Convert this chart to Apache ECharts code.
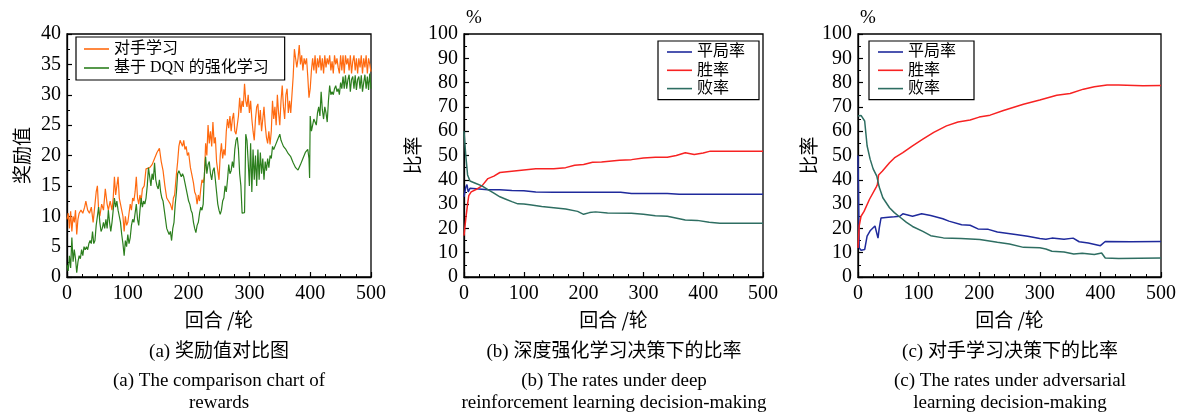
<!DOCTYPE html>
<html><head><meta charset="utf-8">
<script src="https://cdn.jsdelivr.net/npm/echarts@6/dist/echarts.min.js"></script>
<style>html,body{margin:0;padding:0;background:#fff}#c{width:1181px;height:415px}</style>
</head><body><div id="c"></div>
<script>
// ---- Panel (a): rewards ----
const rewardOpponent = [[0,9.5],[2,10.5],[4,8],[6,10.8],[8,7.5],[10,10],[12,9],[14,11],[16,7],[18,9.5],[20,10.5],[23,11],[26,10.5],[29,11.5],[31,12.5],[34,11],[37,10.5],[40,11.5],[43,9],[46,12],[48,14],[50,15],[52,11],[54,10],[57,12],[60,11],[63,14.5],[66,12],[68,11],[71,12.5],[74,11],[76,13],[78,16.5],[80,13.5],[82,15],[84,16.5],[86,13],[88,12],[90,11],[92,10],[94,7.5],[96,10],[98,8.5],[100,9],[102,10.5],[104,12],[106,11],[108,13],[110,12.5],[112,14],[114,16.5],[116,13],[118,12],[120,13.5],[122,12.5],[124,14.5],[127,15],[130,17.8],[133,17.5],[136,18],[140,18.5],[144,19.5],[148,20.5],[152,21.2],[155,19],[158,17.5],[161,15],[164,13],[167,12.5],[170,12],[173,11],[175,13],[177,13.5],[180,17],[182,19],[184,21.5],[186,22.5],[188,22.8],[190,21.5],[192,22.5],[194,21],[196,21.5],[198,20],[200,20.5],[203,18],[205,17],[208,15.5],[210,14],[212,13.5],[214,12],[216,13.5],[218,12.5],[220,14.5],[222,16],[224,15.5],[226,16.5],[228,22],[230,20],[232,25],[234,22],[236,24],[238,21.5],[240,25.5],[242,22],[244,23],[246,19],[248,17.5],[250,16],[252,20],[254,22],[256,19.5],[258,21],[260,20],[262,24],[264,26],[266,24.5],[268,26.5],[270,24],[272,26],[274,27],[276,24],[278,23.5],[280,25],[282,26.5],[284,29.5],[286,27],[288,29],[290,28],[292,31.8],[294,29],[296,28],[298,30],[300,27],[302,29],[304,26],[306,24],[308,22.5],[310,26],[312,28],[314,28.5],[316,25],[318,27.5],[320,24],[322,26],[324,28],[326,25],[328,23],[330,22],[332,24],[334,21.8],[336,24],[338,29],[340,26],[342,28],[344,25],[346,30],[348,27],[350,25],[352,29],[354,31.5],[356,28],[358,26],[360,30],[362,31],[364,27],[366,29],[368,27],[370,30],[372,33],[374,37.5],[376,36],[378,34.5],[380,36],[382,38.2],[384,35],[386,36.5],[388,34],[390,36],[392,35],[394,36],[396,33],[398,29.5],[400,31],[402,34],[404,36],[406,34],[408,36.5],[410,33.5],[412,36],[414,34.5],[416,36.5],[418,34],[420,36],[422,33.5],[424,36.5],[426,34.5],[428,36],[430,35],[432,36.5],[434,34],[436,35.5],[438,33.5],[440,36.5],[442,35],[444,36],[446,34.5],[448,33.5],[450,36.5],[452,34],[454,36.5],[456,33.5],[458,36.5],[460,35],[462,36],[464,34],[466,36.5],[468,33.5],[470,35.5],[472,36.5],[474,34],[476,36],[478,33.5],[480,36],[482,34.5],[484,36.5],[486,33.5],[488,36],[490,34.5],[492,36.5],[494,33.5],[496,36],[498,35],[500,33.8]];
const rewardDQN = [[0,2],[2,1],[4,3.5],[6,1.5],[8,6.5],[10,2.5],[12,4.5],[14,3],[16,0.7],[18,2.5],[20,3.5],[22,3],[24,4.5],[26,3.5],[28,5],[30,4.5],[32,5],[34,4.5],[36,5.5],[38,6],[40,5.5],[42,7.5],[44,5.5],[46,6],[48,8.5],[50,10],[52,11.5],[54,9],[56,7.5],[58,8],[60,9],[62,8],[64,9.5],[66,8],[68,11],[70,9],[72,7.5],[74,9],[76,11],[78,13],[80,11.5],[82,12.5],[84,11],[86,10],[88,9],[90,7],[92,5.5],[94,3.5],[96,6],[98,5],[100,7],[102,5.5],[104,6.5],[106,8.5],[108,9.5],[110,9],[112,10.5],[114,12],[116,9.5],[118,8.5],[120,11],[122,13],[124,11.5],[126,12.5],[128,12],[130,13],[132,15],[134,18],[136,16.5],[138,15],[140,17],[142,16],[144,18.8],[146,16],[148,15],[150,14.5],[152,16],[154,14],[156,13],[158,12.5],[160,11],[162,9.5],[164,8],[166,7.5],[168,7],[170,7.5],[172,6],[174,8],[176,9],[178,12],[180,14],[182,17],[184,17.5],[186,17.8],[188,16.5],[190,17],[192,16.5],[194,15.5],[196,14.5],[198,13.5],[200,12.5],[202,12],[204,11],[206,10.5],[208,9],[210,8],[212,7.3],[214,8.5],[216,9],[218,10.5],[220,11.5],[222,11],[224,12],[226,17],[228,19.8],[230,17],[232,18.5],[234,19],[236,17],[238,16],[240,17.5],[242,18],[244,16],[246,14],[248,12],[250,11],[252,10.3],[254,11],[256,12.5],[258,13],[260,15],[262,14],[264,16],[266,18.5],[268,17],[270,17.5],[272,19],[274,18],[276,21],[278,22.5],[280,23],[282,21],[284,17],[286,15],[288,10.5],[290,10.3],[292,10.6],[294,23.5],[296,22.5],[298,19],[300,15],[302,22],[304,14],[306,21],[308,16],[310,20],[312,15],[314,21],[316,16],[318,20.5],[320,17],[322,19.5],[324,16],[326,19],[328,17.5],[330,19.5],[332,18],[334,20],[336,19.5],[338,21.5],[340,21],[342,21.5],[344,22],[346,22.5],[348,23],[350,23.5],[352,22.5],[354,22],[356,21.5],[358,21.5],[360,21],[364,20.3],[368,19.8],[372,18.8],[376,18],[380,17.6],[384,18.5],[388,19.5],[392,20.5],[396,21],[398,19.5],[399,16.3],[400,26.5],[402,24],[404,25],[406,26],[408,25.5],[410,25],[412,27],[414,28],[416,26.5],[418,30.5],[420,27.5],[422,26],[424,28],[426,27],[428,25.5],[430,29],[432,31.5],[434,30],[436,30.5],[438,30],[440,31],[442,31.5],[444,30.5],[446,31],[448,30],[450,32],[452,31],[454,33],[456,31],[458,33.2],[460,31],[462,32.5],[464,33.3],[466,30.5],[468,32.5],[470,33],[472,31],[474,33.2],[476,30.8],[478,32.5],[480,33],[482,31],[484,33.2],[486,30.5],[488,32],[490,33.3],[492,31],[494,33],[496,30.8],[498,33.5],[500,31]];

// ---- Panel (b): deep RL decision rates (%) ----
const drawRateB = [[0,33],[3,37],[5,38],[7,35],[10,36.5],[20,36.3],[40,35.9],[60,35.9],[80,35.6],[100,35.5],[120,35],[150,34.9],[200,34.9],[262,34.9],[280,34.4],[340,34.4],[360,34.1],[500,34.1]];
const winRateB = [[0,17],[3,24],[6,30],[8,33.5],[12,35],[20,36],[30,37.5],[40,40.5],[50,41.5],[60,43],[80,43.5],[100,44],[120,44.5],[150,44.5],[170,45],[185,46],[200,46.3],[215,47.2],[230,47.3],[260,48],[280,48.3],[300,49],[320,49.3],[340,49.3],[355,50],[370,51.1],[385,50.4],[400,51],[412,51.8],[500,51.8]];
const loseRateB = [[0,60],[3,50],[6,42],[10,39.5],[20,38.5],[30,37.5],[40,36],[50,34.5],[60,33],[70,32],[80,31],[90,30.1],[100,30],[110,29.7],[130,29],[150,28.5],[170,28],[190,27],[200,25.8],[210,26.5],[220,26.8],[240,26.3],[280,26.2],[300,25.8],[320,25.2],[340,25],[360,24],[370,23.5],[390,23.3],[410,22.5],[428,22.1],[500,22.1]];

// ---- Panel (c): adversarial learning decision rates (%) ----
const drawRateC = [[0,50],[2,12],[5,11],[11,11.3],[15,16.8],[20,19],[28,21],[31,21.6],[33,16],[35,20],[38,24.3],[50,24.6],[60,24.8],[69,25],[74,26],[90,25],[105,26],[120,25.3],[140,24],[150,23],[171,21.5],[185,21.3],[198,19.8],[215,19.6],[230,18.5],[260,17.5],[280,16.8],[300,15.8],[310,15.5],[320,16],[340,15.5],[355,16],[365,14.5],[380,14],[400,12.9],[408,14.6],[450,14.5],[500,14.6]];
const winRateC = [[0,12],[2,21],[5,25],[10,27],[19,32],[30,37],[32,38],[34,42],[40,43.5],[52,47],[60,49],[74,51.2],[90,54],[107,56.7],[125,59.5],[146,62.2],[165,63.8],[185,64.6],[200,65.8],[218,66.6],[240,68.5],[273,71.1],[300,72.8],[328,74.8],[350,75.5],[372,77.3],[390,78.3],[411,79],[430,79],[470,78.7],[500,78.8]];
const loseRateC = [[0,66.3],[5,66.5],[11,64.2],[15,54],[20,48.5],[25,44.5],[31,41.5],[35,37],[41,32.6],[52,28.5],[60,26.5],[70,24.5],[80,22.5],[90,20.8],[107,18.8],[120,17],[141,16.1],[170,15.8],[201,15.4],[230,14.3],[250,13.6],[273,12.2],[300,12],[310,11.5],[320,10.6],[340,10.3],[356,9.5],[370,9.8],[390,9.3],[402,9.9],[408,7.8],[430,7.6],[500,7.8]];

const xName = '回合 /轮';
const seriesNamesA = ['对手学习', '基于 DQN 的强化学习'];
const seriesNamesBC = ['平局率', '胜率', '败率'];
const captions = [
  ['(a) 奖励值对比图', '(a) The comparison chart of', 'rewards'],
  ['(b) 深度强化学习决策下的比率', '(b) The rates under deep', 'reinforcement learning decision-making'],
  ['(c) 对手学习决策下的比率', '(c) The rates under adversarial', 'learning decision-making']
];

const SERIF = '"Liberation Serif","Noto Sans CJK SC",serif';
const CJK = '"Noto Sans CJK SC",sans-serif';
const C = {orange:'#ff6a10', green:'#2c7f1e', blue:'#1f2a9c', red:'#f72222', teal:'#2e6e62'};

const grids = [
  {left:67, right:810, top:34, bottom:138},
  {left:464, right:418, top:34, bottom:138},
  {left:858, right:20, top:34, bottom:138}
];
const centers = [219, 614, 1010];

function xAxis(i){
  return {gridIndex:i, type:'value', min:0, max:500, interval:100,
    name:xName, nameLocation:'middle', nameGap:33,
    nameTextStyle:{fontFamily:CJK, fontSize:19, color:'#000'},
    axisLine:{show:true, lineStyle:{color:'#000', width:1.3}},
    axisTick:{show:true, inside:true, length:5, lineStyle:{color:'#000', width:1.2}},
    minorTick:{show:true, splitNumber:4, length:3, lineStyle:{color:'#000', width:1}},
    splitLine:{show:false},
    axisLabel:{fontFamily:SERIF, fontSize:20, color:'#000', margin:7}
  };
}
function yAxis(i, max, interval, name, gap){
  return {gridIndex:i, type:'value', min:0, max:max, interval:interval,
    name:name, nameLocation:'middle', nameGap:gap, nameRotate:90,
    nameTextStyle:{fontFamily:CJK, fontSize:19, color:'#000'},
    axisLine:{show:true, lineStyle:{color:'#000', width:1.3}},
    axisTick:{show:true, inside:true, length:5, lineStyle:{color:'#000', width:1.2}},
    minorTick:{show:true, splitNumber:2, length:3, lineStyle:{color:'#000', width:1}},
    splitLine:{show:false},
    axisLabel:{fontFamily:SERIF, fontSize:20, color:'#000', margin:6}
  };
}
function line(name, data, xi, color, w){
  return {name:name, type:'line', xAxisIndex:xi, yAxisIndex:xi, data:data,
    showSymbol:false, symbol:'none', smooth:false, animation:false,
    lineStyle:{color:color, width:w}, itemStyle:{color:color}};
}
function legend(names, left, top, rowGap, padding){
  return {data:names, orient:'vertical', left:left, top:top,
    icon:'rect', itemWidth:25, itemHeight:1.6, itemGap:rowGap,
    borderColor:'#000', borderWidth:1.2, borderRadius:0, padding:padding,
    backgroundColor:'#fff',
    textStyle:{fontFamily:SERIF, fontSize:16, color:'#000', lineHeight:18}};
}

const graphics = [];
captions.forEach((cap, i) => {
  const ys = [352, 381, 403];
  cap.forEach((t, j) => {
    graphics.push({type:'text', x:centers[i], y:ys[j],
      style:{text:t, fontFamily:SERIF, fontSize:19,
        fill:'#000', textAlign:'center', textVerticalAlign:'middle'}});
  });
});
graphics.push({type:'text', x:466, y:18, style:{text:'%', fontFamily:SERIF, fontSize:19, fill:'#000', textAlign:'left', textVerticalAlign:'middle'}});
graphics.push({type:'text', x:860, y:18, style:{text:'%', fontFamily:SERIF, fontSize:19, fill:'#000', textAlign:'left', textVerticalAlign:'middle'}});

const option = {
  animation:false,
  backgroundColor:'#fff',
  grid: grids.map(g => Object.assign({show:true, borderColor:'#000', borderWidth:1.3, backgroundColor:'transparent'}, g)),
  xAxis:[xAxis(0), xAxis(1), xAxis(2)],
  yAxis:[yAxis(0,40,5,'奖励值',36), yAxis(1,100,10,'比率',42), yAxis(2,100,10,'比率',40)],
  legend:[
    legend(seriesNamesA, 76, 37, 1, [3,16,3,8]),
    legend(seriesNamesBC, 658, 41, 0.3, [2,14,2,9]),
    legend(seriesNamesBC, 869, 41, 0.3, [2,18,2,9])
  ],
  series:[
    line(seriesNamesA[0], rewardOpponent, 0, C.orange, 1.2),
    line(seriesNamesA[1], rewardDQN, 0, C.green, 1.2),
    line(seriesNamesBC[0], drawRateB, 1, C.blue, 1.5),
    line(seriesNamesBC[1], winRateB, 1, C.red, 1.5),
    line(seriesNamesBC[2], loseRateB, 1, C.teal, 1.5),
    line(seriesNamesBC[0], drawRateC, 2, C.blue, 1.5),
    line(seriesNamesBC[1], winRateC, 2, C.red, 1.5),
    line(seriesNamesBC[2], loseRateC, 2, C.teal, 1.5)
  ],
  graphic: graphics
};
const chart = echarts.init(document.getElementById('c'), null, {renderer:'canvas'});
chart.setOption(option);
</script></body></html>
